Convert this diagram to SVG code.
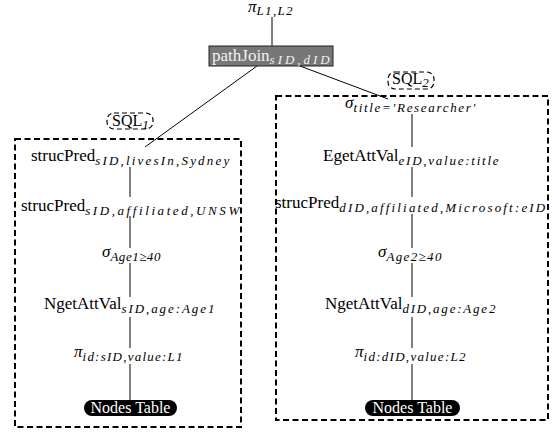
<svg xmlns="http://www.w3.org/2000/svg" width="554" height="432" viewBox="0 0 554 432">
  <style>
    text, tspan { font-family: "Liberation Serif", "Times New Roman", serif; }
    text { fill: #000; }
    .m { font-size: 17px; }
    .g { font-style: italic; font-size: 17px; }
    .s { font-style: italic; font-size: 13px; }
    .link { stroke: #000; stroke-width: 1; fill: none; }
    .frame { fill: none; stroke: #000; stroke-width: 2; stroke-dasharray: 6 3.5; }
    .tag { fill: none; stroke: #000; stroke-width: 1.2; stroke-dasharray: 5 3; }
    .table { fill: #000; }
    .tabletext { fill: #fff; font-size: 16px; }
    .join { fill: #777; stroke: #222; stroke-width: 1; }
    .light { fill: #f2f2f2; }
  </style>

  <!-- dashed sub-query frames -->
  <g id="sql1-frame">
    <rect class="frame" x="15" y="139" width="226" height="288"/>
    <rect class="tag" x="107" y="113" width="46" height="16" rx="7"/>
    <text x="112" y="126" font-size="16">SQL<tspan class="s" dy="3">1</tspan></text>
  </g>
  <g id="sql2-frame">
    <rect class="frame" x="276" y="96" width="272" height="324"/>
    <rect class="tag" x="388" y="72" width="46" height="17" rx="7"/>
    <text x="392" y="84" font-size="16">SQL<tspan class="s" dy="3">2</tspan></text>
  </g>

  <!-- connectors -->
  <g id="connectors">
    <line class="link" x1="272" y1="17" x2="272" y2="46"/>
    <line class="link" x1="257" y1="66" x2="145" y2="147"/>
    <line class="link" x1="300" y1="66" x2="388" y2="99"/>
    <!-- left chain -->
    <line class="link" x1="130" y1="167" x2="130" y2="197"/>
    <line class="link" x1="130" y1="216" x2="130" y2="248"/>
    <line class="link" x1="130" y1="263" x2="130" y2="297"/>
    <line class="link" x1="130" y1="317" x2="130" y2="348"/>
    <line class="link" x1="130" y1="364" x2="130" y2="400"/>
    <!-- right chain -->
    <line class="link" x1="412" y1="114" x2="412" y2="147"/>
    <line class="link" x1="412" y1="167" x2="412" y2="197"/>
    <line class="link" x1="412" y1="214" x2="412" y2="248"/>
    <line class="link" x1="412" y1="263" x2="412" y2="297"/>
    <line class="link" x1="412" y1="317" x2="412" y2="348"/>
    <line class="link" x1="412" y1="364" x2="412" y2="400"/>
  </g>

  <!-- top operators -->
  <g id="project-top">
    <text x="248" y="12"><tspan class="g">π</tspan><tspan class="s" dy="3" textLength="36">L1,L2</tspan></text>
  </g>
  <g id="path-join">
    <rect class="join" x="209" y="46" width="124" height="20"/>
    <text class="light" x="212" y="61"><tspan class="m light">pathJoin</tspan><tspan class="s light" dy="3" textLength="60">sID,dID</tspan></text>
  </g>

  <!-- left sub-query -->
  <g id="l-struc1">
    <text class="m" x="31" y="161">strucPred<tspan class="s" dy="3.5" textLength="134">sID,livesIn,Sydney</tspan></text>
  </g>
  <g id="l-struc2">
    <text class="m" x="21" y="211">strucPred<tspan class="s" dy="3.5" textLength="154">sID,affiliated,UNSW</tspan></text>
  </g>
  <g id="l-select">
    <text x="102" y="257"><tspan class="g">σ</tspan><tspan class="s" dy="3.5" textLength="50">Age1≥40</tspan></text>
  </g>
  <g id="l-getatt">
    <text class="m" x="44" y="309">NgetAttVal<tspan class="s" dy="3.5" textLength="93">sID,age:Age1</tspan></text>
  </g>
  <g id="l-project">
    <text x="74" y="357"><tspan class="g">π</tspan><tspan class="s" dy="3.5" textLength="100">id:sID,value:L1</tspan></text>
  </g>
  <g id="l-nodes">
    <rect class="table" x="84" y="400" width="93" height="16" rx="8"/>
    <text class="tabletext" x="130.5" y="413" text-anchor="middle">Nodes Table</text>
  </g>

  <!-- right sub-query -->
  <g id="r-select-title">
    <text x="345" y="108"><tspan class="g">σ</tspan><tspan class="s" dy="3.5" textLength="122">title=′Researcher′</tspan></text>
  </g>
  <g id="r-egetatt">
    <text class="m" x="323" y="161">EgetAttVal<tspan class="s" dy="3.5" textLength="100">eID,value:title</tspan></text>
  </g>
  <g id="r-struc">
    <text class="m" x="275" y="208">strucPred<tspan class="s" dy="3.5" textLength="206">dID,affiliated,Microsoft:eID</tspan></text>
  </g>
  <g id="r-select-age">
    <text x="378" y="257"><tspan class="g">σ</tspan><tspan class="s" dy="3.5" textLength="55">Age2≥40</tspan></text>
  </g>
  <g id="r-getatt">
    <text class="m" x="325" y="309">NgetAttVal<tspan class="s" dy="3.5" textLength="93">dID,age:Age2</tspan></text>
  </g>
  <g id="r-project">
    <text x="355" y="357"><tspan class="g">π</tspan><tspan class="s" dy="3.5" textLength="102">id:dID,value:L2</tspan></text>
  </g>
  <g id="r-nodes">
    <rect class="table" x="365" y="400" width="95" height="16" rx="8"/>
    <text class="tabletext" x="412.5" y="413" text-anchor="middle">Nodes Table</text>
  </g>
</svg>
